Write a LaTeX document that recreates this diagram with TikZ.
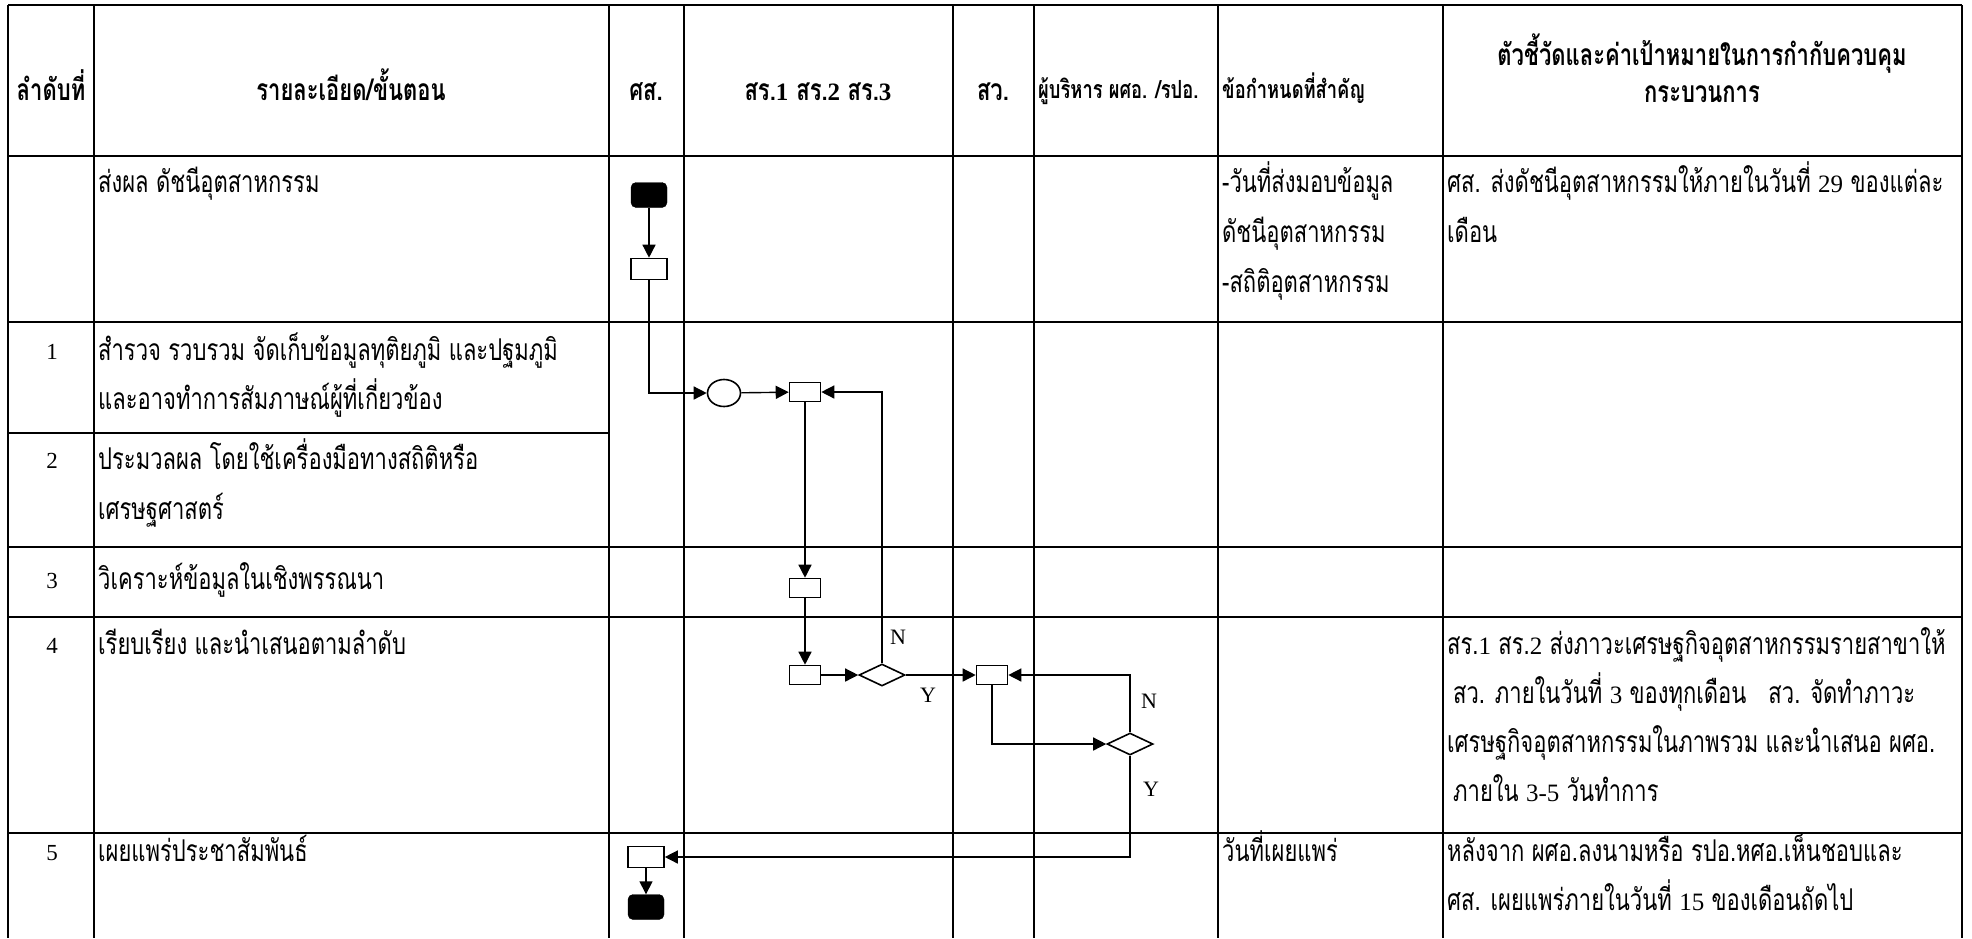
\documentclass[tikz,border=0pt]{standalone}
\usepackage{fontspec}
\setmainfont{Liberation Serif}
\newfontfamily\thai[Script=Thai,FakeStretch=0.733]{Loma}
\usetikzlibrary{arrows.meta,shapes.geometric}
\newcommand\ltn[1]{{\rmfamily\fontsize{25}{30}\selectfont #1}}
\tikzset{
  tline/.style={line width=2pt},
  flow/.style={line width=1.4pt,-{Triangle[length=13pt,width=13pt]}},
  box/.style={draw,line width=1.6pt,minimum width=31pt,minimum height=19pt,inner sep=0pt,fill=white},
  bigbox/.style={box,minimum width=36pt,minimum height=21pt},
  term/.style={fill=black,draw=black,rounded corners=5pt,minimum width=36pt,minimum height=25pt,inner sep=0pt},
  dia/.style={diamond,draw,line width=1.6pt,minimum width=46pt,minimum height=22pt,inner sep=0pt,fill=white},
  oval/.style={ellipse,draw,line width=1.6pt,minimum width=33pt,minimum height=27pt,inner sep=0pt,fill=white},
  txt/.style={anchor=base west,inner sep=0pt,font=\thai\fontsize{30}{34}\selectfont},
  hdr/.style={anchor=base,inner sep=0pt,font=\thai\bfseries\fontsize{30}{34}\selectfont},
  hdrs/.style={anchor=base west,inner sep=0pt,font=\thai\bfseries\fontsize{25}{30}\selectfont},
  num/.style={anchor=base,inner sep=0pt,font=\rmfamily\fontsize{23}{27}\selectfont},
  lab/.style={anchor=base,inner sep=0pt,font=\rmfamily\fontsize{22}{26}\selectfont},
}
\begin{document}
\begin{tikzpicture}[x=1pt,y=-1pt]
\useasboundingbox[fill=white] (0,0) rectangle (1972,938);
% table grid
\foreach \yy in {5,156,322,547,617,833} \draw[tline] (8,\yy) -- (1962,\yy);
\draw[tline] (8,433) -- (609,433);
\foreach \xx in {8,94,609,684,953,1034,1218,1443,1962} \draw[tline] (\xx,5) -- (\xx,938);
% header
\node[hdr] (h1) at (51,100) {ลำดับที่};
\node[hdr] (h2) at (351,100) {รายละเอียด/ขั้นตอน};
\node[hdr] (h3) at (646,100) {ศส.};
\node[hdr] (h4) at (818,100) {สร.\ltn{\bfseries 1}\hspace{8pt}สร.\ltn{\bfseries 2} สร.\ltn{\bfseries 3}};
\node[hdr] (h5) at (993,100) {สว.};
\node[hdrs] (h6) at (1038,98) {ผู้บริหาร ผศอ. /รปอ.};
\node[hdrs] (h7) at (1222,98) {ข้อกำหนดที่สำคัญ};
\node[hdr] (h8) at (1702,65) {ตัวชี้วัดและค่าเป้าหมายในการกำกับควบคุม};
\node[hdr] (h9) at (1702,102) {กระบวนการ};
% row 0
\node[txt] (a0) at (98,192) {ส่งผล ดัชนีอุตสาหกรรม};
\node[txt] (c0a) at (1222,192) {-วันที่ส่งมอบข้อมูล};
\node[txt] (c0b) at (1222,242) {ดัชนีอุตสาหกรรม};
\node[txt] (c0c) at (1222,292) {-สถิติอุตสาหกรรม};
\node[txt] (d0a) at (1447,192) {ศส. ส่งดัชนีอุตสาหกรรมให้ภายในวันที่ \ltn{29} ของแต่ละ};
\node[txt] (d0b) at (1447,242) {เดือน};
% row 1
\node[num] (n1) at (52,359) {1};
\node[txt] (a1a) at (98,360) {สำรวจ รวบรวม จัดเก็บข้อมูลทุติยภูมิ และปฐมภูมิ};
\node[txt] (a1b) at (98,409) {และอาจทำการสัมภาษณ์ผู้ที่เกี่ยวข้อง};
% row 2
\node[num] (n2) at (52,468) {2};
\node[txt] (a2a) at (98,469) {ประมวลผล โดยใช้เครื่องมือทางสถิติหรือ};
\node[txt] (a2b) at (98,519) {เศรษฐศาสตร์};
% row 3
\node[num] (n3) at (52,588) {3};
\node[txt] (a3) at (98,589) {วิเคราะห์ข้อมูลในเชิงพรรณนา};
% row 4
\node[num] (n4) at (52,653) {4};
\node[txt] (a4) at (98,654) {เรียบเรียง และนำเสนอตามลำดับ};
\node[txt] (d4a) at (1447,654) {สร.\ltn{1} สร.\ltn{2} ส่งภาวะเศรษฐกิจอุตสาหกรรมรายสาขาให้};
\node[txt] (d4b) at (1447,703) {\hspace{6pt}สว. ภายในวันที่ \ltn{3} ของทุกเดือน\hspace{22pt}สว. จัดทำภาวะ};
\node[txt] (d4c) at (1447,752) {เศรษฐกิจอุตสาหกรรมในภาพรวม และนำเสนอ ผศอ.};
\node[txt] (d4d) at (1447,801) {\hspace{6pt}ภายใน \ltn{3-5} วันทำการ};
% row 5
\node[num] (n5) at (52,860) {5};
\node[txt] (a5) at (98,861) {เผยแพร่ประชาสัมพันธ์};
\node[txt] (c5) at (1222,861) {วันที่เผยแพร่};
\node[txt] (d5a) at (1447,861) {หลังจาก ผศอ.ลงนามหรือ รปอ.หศอ.เห็นชอบและ};
\node[txt] (d5b) at (1447,910) {ศส.\hspace{10pt}เผยแพร่ภายในวันที่ \ltn{15} ของเดือนถัดไป};
% flow shapes
\node[term] (start) at (649,195) {};
\node[bigbox] (b0) at (649,269) {};
\node[oval] (circ) at (724,393) {};
\node[box] (b1) at (805,392) {};
\node[box] (b2) at (805,588) {};
\node[box] (b3) at (805,675) {};
\node[dia] (d1) at (882,675) {};
\node[box] (b4) at (992,675) {};
\node[dia] (d2) at (1130,744) {};
\node[bigbox] (b5) at (646,857) {};
\node[term] (stop) at (646,907) {};
% connectors
\draw[flow] (start) -- (b0);
\draw[flow] (b0.south) |- (circ.west);
\draw[flow] (circ) -- (b1);
\draw[flow] (d1.north) |- (b1.east);
\draw[flow] (b1) -- (b2);
\draw[flow] (b2) -- (b3);
\draw[flow] (b3) -- (d1);
\draw[flow] (d1) -- (b4);
\draw[flow] (b4.south) |- (d2.west);
\draw[flow] (d2.north) |- (b4.east);
\draw[flow] (d2.south) |- (b5.east);
\draw[flow] (b5) -- (stop);
% labels
\node[lab] (ln1) at (898,644) {N};
\node[lab] (ly1) at (928,702) {Y};
\node[lab] (ln2) at (1149,708) {N};
\node[lab] (ly2) at (1151,796) {Y};
\end{tikzpicture}
\end{document}
